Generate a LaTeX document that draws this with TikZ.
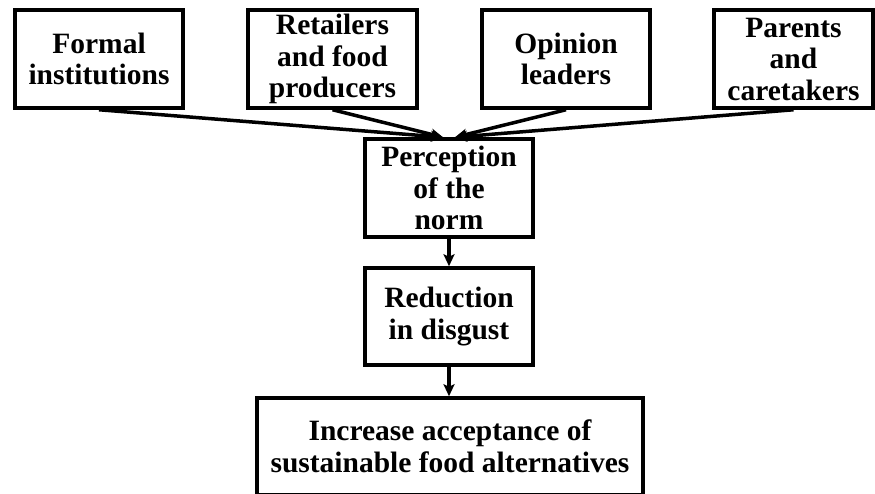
\documentclass[tikz,border=0pt]{standalone}
\usepackage{fontspec}
\setmainfont{Liberation Serif}
\usetikzlibrary{arrows.meta}
\tikzset{
  box/.style={draw, line width=3.5pt, inner sep=0pt, align=center,
    font=\fontsize{29.5}{31.5}\selectfont\bfseries, minimum height=98pt},
  conn/.style={line width=3.5pt, -{Stealth[length=12pt,width=11pt,inset=2.5pt]}}
}
\begin{document}
\begin{tikzpicture}[x=1pt,y=-1pt]
\useasboundingbox (0,0) rectangle (875,493);
\node[box, minimum width=168pt] (form) at (99,59) {Formal\\institutions};
\node[box, minimum width=169pt] (ret) at (332.5,59) {Retailers\\and food\\producers};
\node[box, minimum width=168pt] (opin) at (566,59) {Opinion\\leaders};
\node[box, minimum width=159pt] (par) at (793.5,59) {Parents\\and\\caretakers};
\node[box, minimum width=168pt] (perc) at (449,188) {Perception\\of the\\norm};
\node[box, minimum width=168pt, minimum height=97pt] (red) at (449,316.5) {Reduction\\in disgust};
\node[box, minimum width=386pt, minimum height=97pt] (inc) at (450,446.5) {Increase acceptance of\\sustainable food alternatives};
\draw[conn] (form.south) -- ([xshift=-6pt]perc.north);
\draw[conn] (ret.south) -- ([xshift=-6pt]perc.north);
\draw[conn] (opin.south) -- ([xshift=6pt]perc.north);
\draw[conn] (par.south) -- ([xshift=6pt]perc.north);
\draw[conn] (perc.south) -- (red.north);
\draw[conn] (red.south) -- (red.south |- inc.north);
\end{tikzpicture}
\end{document}
